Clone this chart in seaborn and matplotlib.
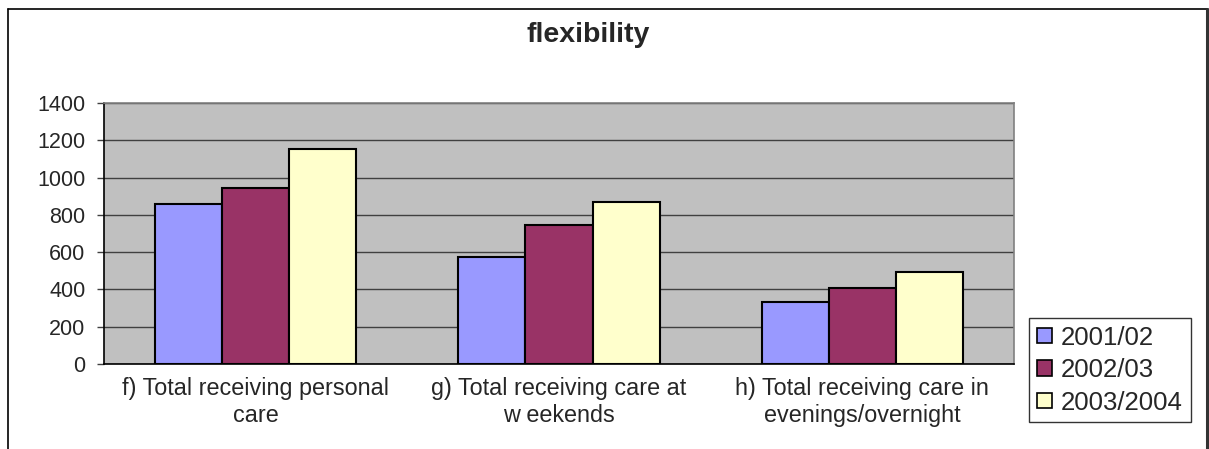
import pandas as pd
import matplotlib.pyplot as plt
import seaborn as sns
from matplotlib.lines import Line2D

categories = ["f) Total receiving personal\ncare",
              "g) Total receiving care at\nw eekends",
              "h) Total receiving care in\nevenings/overnight"]
years = ["2001/02", "2002/03", "2003/2004"]
v2001 = [860, 576, 331]
v2002 = [945, 746, 406]
v2003 = [1152, 869, 492]
colors = ["#9999FF", "#993366", "#FFFFCC"]

rows = []
for yr, vals in zip(years, [v2001, v2002, v2003]):
    for c, v in zip(categories, vals):
        rows.append({"category": c, "year": yr, "value": v})
df = pd.DataFrame(rows)

sns.set_style("white")
plt.rcParams['font.family'] = ['Liberation Sans', 'DejaVu Sans']

W, H = 1209, 449
fig = plt.figure(figsize=(W / 100, H / 100), dpi=100)
ax = fig.add_axes([104 / W, 1 - 364 / H, 910 / W, 261 / H])
ax.set_facecolor("#C0C0C0")

sns.barplot(data=df, x="category", y="value", hue="year", palette=colors,
            width=0.663, gap=0, edgecolor="black", linewidth=1.5,
            saturation=1, ax=ax, legend=True, zorder=3)

ax.set_ylim(0, 1400)
ax.set_xlim(-0.5, 2.5)
ax.set_yticks(range(0, 1401, 200))
ax.yaxis.grid(True, color="#404040", linewidth=1.0, zorder=0)
ax.set_axisbelow(True)
ax.set_xlabel("")
ax.set_ylabel("")
ax.tick_params(axis="y", direction="out", length=5, width=1, color="#404040",
               labelsize=15.5, pad=8.5, left=True)
ax.set_xticks([-0.5, 0.5, 1.5, 2.5], minor=True)
ax.tick_params(axis="x", which="minor", direction="out", length=5, width=1, color="#404040")
ax.tick_params(axis="x", which="major", length=0, labelsize=16.8, pad=9)
for lab in ax.get_xticklabels():
    lab.set_horizontalalignment("center")
    lab.set_linespacing(1.25)

for s in ["left", "bottom"]:
    ax.spines[s].set_color("black")
    ax.spines[s].set_linewidth(1.2)
for s in ["top", "right"]:
    ax.spines[s].set_color("#808080")
    ax.spines[s].set_linewidth(1.2)

leg = ax.legend(loc="upper left", bbox_to_anchor=(1029 / W, 1 - 318 / H),
                bbox_transform=fig.transFigure, frameon=True, fancybox=False,
                fontsize=18.5, handlelength=0.6, handleheight=0.55,
                handletextpad=0.35, labelspacing=0.33, borderpad=0.3,
                borderaxespad=0)
leg.get_frame().set_edgecolor("black")
leg.get_frame().set_linewidth(1.0)
for h in leg.legend_handles:
    h.set_edgecolor("black")
    h.set_linewidth(1.2)

fig.text(588 / W, 1 - 35 / H, "flexibility", ha="center", va="center",
         fontsize=20.5, fontweight="bold")

# outer chart frame
fig.add_artist(Line2D([8 / W, 1208 / W], [1 - 9 / H, 1 - 9 / H], color="black", lw=1.2,
                      transform=fig.transFigure))
fig.add_artist(Line2D([8 / W, 8 / W], [0, 1 - 9 / H], color="black", lw=1.2,
                      transform=fig.transFigure))
fig.add_artist(Line2D([1207 / W, 1207 / W], [0, 1 - 9 / H], color="#333333", lw=2.2,
                      transform=fig.transFigure))

fig.savefig("out.png", dpi=100)
